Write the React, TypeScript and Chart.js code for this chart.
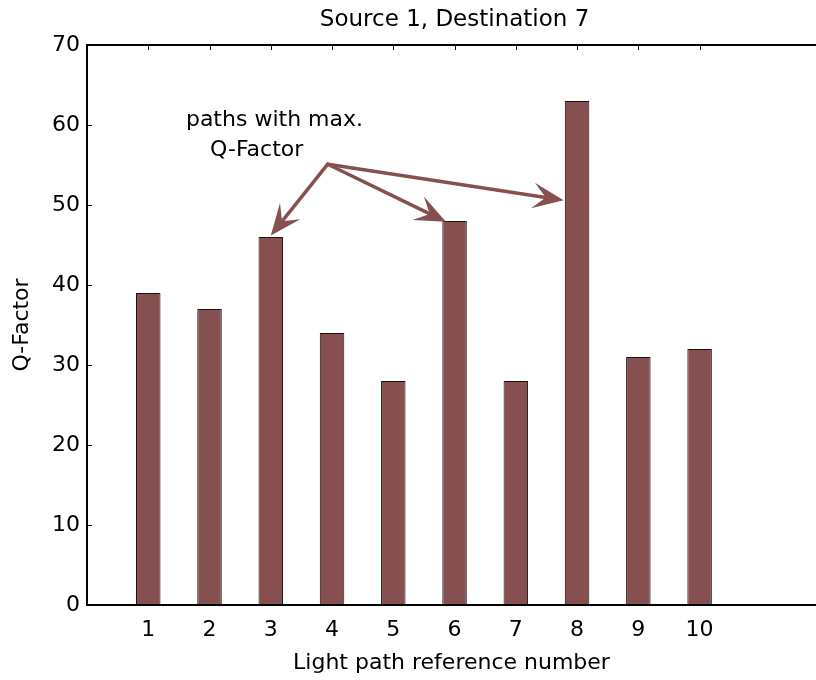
import React, { useEffect, useRef } from "react";
import { Chart, registerables } from "chart.js";

Chart.register(...registerables);

// Q-factor of each candidate light path between source 1 and destination 7
const pathNumbers = [1, 2, 3, 4, 5, 6, 7, 8, 9, 10];
const qFactor = [39, 37, 46, 34, 28, 48, 28, 63, 31, 32];
const yTickStep = 10;
const yRange = [0, 70];
// x axis runs 0..12; the visible canvas ends just before 12
const xRange = [0, 11.9];
const xAxisCentre = 6;

const chartTitle = "Source 1, Destination 7";
const xTitle = "Light path reference number";
const yTitle = "Q-Factor";

// callout text (data coordinates of each line's centre)
const noteLines = ["paths with max.", "Q-Factor"];
const noteAnchors = [
  { x: 3.06, y: 60.6 },
  { x: 2.77, y: 56.8 },
];
// arrows from the callout to the best paths (3, 6 and 8)
const arrowOrigin = { x: 3.93, y: 55.1 };
const arrowTips = [
  { x: 3.0, y: 46.2 },
  { x: 5.86, y: 47.9 },
  { x: 7.78, y: 50.6 },
];

const FONT = '"DejaVu Sans", "Liberation Sans", sans-serif';
const FONT_SIZE = 22;
const TITLE_SIZE = 23;
const BAR_COLOR = "#875050";

const framePlugin = {
  id: "frame",
  afterDatasetsDraw(chart: any) {
    const { ctx, chartArea: a, scales } = chart;
    const xs = scales.x;
    const ys = scales.y;
    ctx.save();
    ctx.strokeStyle = "#000";
    ctx.lineWidth = 2;
    ctx.beginPath();
    ctx.moveTo(a.right + 2, a.top);
    ctx.lineTo(a.left, a.top);
    ctx.lineTo(a.left, a.bottom);
    ctx.lineTo(a.right + 2, a.bottom);
    ctx.stroke();

    // inward tick marks
    ctx.lineWidth = 1;
    ctx.beginPath();
    ys.ticks.forEach((t: any) => {
      const py = Math.round(ys.getPixelForValue(t.value)) + 0.5;
      ctx.moveTo(a.left, py);
      ctx.lineTo(a.left + 5, py);
    });
    xs.ticks.forEach((t: any) => {
      const px = Math.round(xs.getPixelForValue(t.value)) + 0.5;
      ctx.moveTo(px, a.top);
      ctx.lineTo(px, a.top + 5);
    });
    ctx.stroke();
    ctx.restore();
  },
};

const calloutPlugin = {
  id: "callout",
  afterDraw(chart: any) {
    const { ctx, scales } = chart;
    const xs = scales.x;
    const ys = scales.y;
    const px = (p: { x: number; y: number }) => [
      xs.getPixelForValue(p.x),
      ys.getPixelForValue(p.y),
    ];

    ctx.save();
    ctx.fillStyle = "#000";
    ctx.textAlign = "center";
    ctx.textBaseline = "middle";
    // title centred over the full 0..12 axis span
    ctx.font = `${TITLE_SIZE}px ${FONT}`;
    ctx.fillText(chartTitle, xs.getPixelForValue(xAxisCentre), 20);
    ctx.font = `${FONT_SIZE}px ${FONT}`;
    noteLines.forEach((line, i) => {
      const [x, y] = px(noteAnchors[i]);
      ctx.fillText(line, x, y);
    });

    const [ox, oy] = px(arrowOrigin);
    ctx.strokeStyle = BAR_COLOR;
    ctx.fillStyle = BAR_COLOR;
    ctx.lineWidth = 3.5;
    ctx.lineCap = "round";
    arrowTips.forEach((tip) => {
      const [tx, ty] = px(tip);
      const dx = tx - ox;
      const dy = ty - oy;
      const len = Math.hypot(dx, dy);
      const ux = dx / len;
      const uy = dy / len;
      const nx = -uy;
      const ny = ux;
      const headLen = 31;
      const headHalf = 13;
      const notch = 18;
      ctx.beginPath();
      ctx.moveTo(ox, oy);
      ctx.lineTo(tx - ux * notch, ty - uy * notch);
      ctx.stroke();
      ctx.beginPath();
      ctx.moveTo(tx, ty);
      ctx.lineTo(tx - ux * headLen + nx * headHalf, ty - uy * headLen + ny * headHalf);
      ctx.lineTo(tx - ux * notch, ty - uy * notch);
      ctx.lineTo(tx - ux * headLen - nx * headHalf, ty - uy * headLen - ny * headHalf);
      ctx.closePath();
      ctx.fill();
    });
    ctx.restore();
  },
};

export default function App() {
  const canvasRef = useRef<HTMLCanvasElement | null>(null);

  useEffect(() => {
    if (!canvasRef.current) return;
    const font = { family: FONT, size: FONT_SIZE, weight: "normal" as const };
    const chart = new Chart(canvasRef.current, {
      type: "bar",
      data: {
        datasets: [
          {
            data: pathNumbers.map((n, i) => ({ x: n, y: qFactor[i] })),
            backgroundColor: BAR_COLOR,
            borderColor: "#1a1010",
            borderWidth: 1,
            borderSkipped: false,
            barPercentage: 0.4,
            categoryPercentage: 1,
          },
        ],
      },
      options: {
        responsive: false,
        animation: false,
        devicePixelRatio: 1,
        layout: { padding: { left: 0, right: 0, top: 45, bottom: 0 } },
        plugins: {
          legend: { display: false },
          tooltip: { enabled: false },
          title: { display: false },
        },
        scales: {
          x: {
            type: "linear",
            offset: false,
            min: xRange[0],
            max: xRange[1],
            grid: { display: false, drawTicks: false },
            border: { display: false },
            afterBuildTicks: (s: any) => {
              s.ticks = pathNumbers.map((v) => ({ value: v }));
            },
            ticks: {
              color: "#000",
              font,
              padding: 12,
              maxRotation: 0,
              autoSkip: false,
            },
            title: {
              display: true,
              text: xTitle,
              color: "#000",
              font,
              padding: { top: 0, bottom: 4 },
            },
            afterFit: (s: any) => {
              s.height = 75;
            },
          },
          y: {
            min: yRange[0],
            max: yRange[1],
            grid: { display: false, drawTicks: false },
            border: { display: false },
            ticks: { stepSize: yTickStep, color: "#000", font, padding: 7 },
            title: {
              display: true,
              text: yTitle,
              color: "#000",
              font,
              padding: { top: 9, bottom: 0 },
            },
            afterFit: (s: any) => {
              s.width = 87;
            },
          },
        },
      } as any,
      plugins: [framePlugin, calloutPlugin],
    });
    return () => chart.destroy();
  }, []);

  return (
    <div
      style={{
        position: "absolute",
        left: 0,
        top: 0,
        width: 816,
        height: 680,
        overflow: "hidden",
        background: "#fff",
      }}
    >
      <canvas ref={canvasRef} width={816} height={680} style={{ width: 816, height: 680 }} />
    </div>
  );
}
